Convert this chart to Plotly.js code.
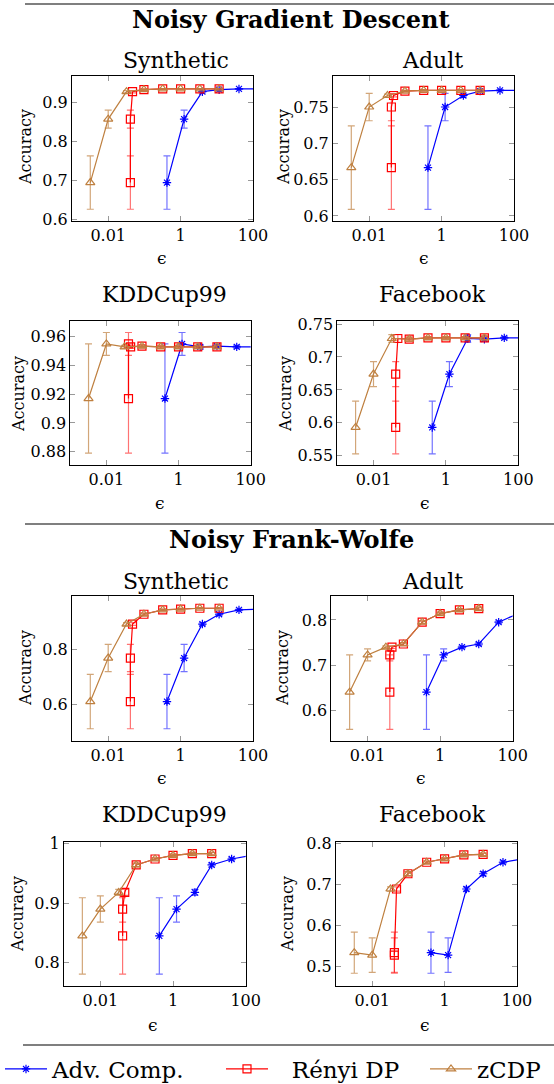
<!DOCTYPE html>
<html><head><meta charset="utf-8">
<script src="https://cdn.plot.ly/plotly-3.0.1.min.js"></script>
<style>html,body{margin:0;padding:0;background:#fff;}#chart{width:554px;height:1084px;}</style>
</head><body><div id="chart"></div>
<script>
// ---------------- data ----------------
const methodNames = ['Adv. Comp.', 'Rényi DP', 'zCDP'];
const epsAdv   = [0.42, 1.25, 4.0, 11.6, 41, 140];
const epsRenyi = [0.041, 0.041, 0.047, 0.097, 0.32, 1.0, 3.4, 11.6];
const epsZcdp  = [0.0032, 0.01, 0.032, 0.097, 0.32, 1.0, 3.4, 11.6];

const sectionTitles = ['Noisy Gradient Descent', 'Noisy Frank-Wolfe'];
const datasetNames = ['Synthetic', 'Adult', 'KDDCup99', 'Facebook'];

// Noisy Gradient Descent
const ngdSyntheticAcc = [0.695, 0.857, 0.927, 0.932, 0.934, 0.934, 0.934, 0.934];
const ngdSyntheticErr = [0.068, 0.023, 0.003, 0.002, 0.001, 0.001, 0.001, 0.001];
const ngdAdultAcc = [0.667, 0.751, 0.767, 0.773, 0.774, 0.774, 0.774, 0.774];
const ngdAdultErr = [0.058, 0.019, 0.002, 0.001, 0.001, 0.001, 0.001, 0.001];
const ngdKddAcc = [0.917, 0.955, 0.953, 0.9535, 0.953, 0.953, 0.953, 0.953];
const ngdKddErr = [0.038, 0.008, 0.001, 0.001, 0.001, 0.001, 0.001, 0.001];
const ngdFacebookAcc = [0.593, 0.674, 0.728, 0.727, 0.729, 0.729, 0.729, 0.729];
const ngdFacebookErr = [0.040, 0.019, 0.006, 0.003, 0.002, 0.002, 0.002, 0.003];

// Noisy Frank-Wolfe
const nfwSyntheticAcc = [0.610, 0.770, 0.895, 0.931, 0.947, 0.950, 0.953, 0.953];
const nfwSyntheticErr = [0.100, 0.050, 0.005, 0.004, 0.003, 0.003, 0.002, 0.002];
const nfwAdultAcc = [0.641, 0.723, 0.740, 0.747, 0.795, 0.814, 0.822, 0.825];
const nfwAdultErr = [0.082, 0.013, 0.003, 0.003, 0.003, 0.003, 0.003, 0.003];
const nfwKddAcc = [0.845, 0.890, 0.918, 0.964, 0.974, 0.980, 0.983, 0.983];
const nfwKddErr = [0.064, 0.022, 0.005, 0.003, 0.002, 0.002, 0.002, 0.002];
const nfwFacebookAcc = [0.534, 0.528, 0.689, 0.726, 0.754, 0.762, 0.772, 0.773];
const nfwFacebookErr = [0.050, 0.042, 0.005, 0.005, 0.003, 0.003, 0.003, 0.003];

const xTickVals = [0.01, 1, 100];
const xTickText = ['0.01', '1', '100'];
const yTicks = [
  [0.6, 0.7, 0.8, 0.9], [0.6, 0.65, 0.7, 0.75], [0.88, 0.9, 0.92, 0.94, 0.96], [0.55, 0.6, 0.65, 0.7, 0.75],
  [0.6, 0.8], [0.6, 0.7, 0.8], [0.8, 0.9, 1], [0.5, 0.6, 0.7, 0.8]
];

// ---------------- layout config ----------------
const W = 554, H = 1084;
const FONT = '"DejaVu Serif"';
const panels = [
  {acc: ngdSyntheticAcc, err: ngdSyntheticErr, name: datasetNames[0], box: [72, 253, 76, 221], yr: [0.597, 0.967], tx: 176, ty: 61, ax: 25, ex: 162},
  {acc: ngdAdultAcc, err: ngdAdultErr, name: datasetNames[1], box: [333, 514, 76, 221], yr: [0.593, 0.794], tx: 432, ty: 61, ax: 283, ex: 424},
  {acc: ngdKddAcc, err: ngdKddErr, name: datasetNames[2], box: [70.3, 250.7, 321, 465], yr: [0.8707, 0.971], tx: 164, ty: 294, ax: 18, ex: 160},
  {acc: ngdFacebookAcc, err: ngdFacebookErr, name: datasetNames[3], box: [337.3, 518.3, 321, 465], yr: [0.536, 0.7546], tx: 432, ty: 294, ax: 285, ex: 425},
  {acc: nfwSyntheticAcc, err: nfwSyntheticErr, name: datasetNames[0], box: [72, 253, 596.3, 740.7], yr: [0.466, 0.997], tx: 176, ty: 581, ax: 25, ex: 162},
  {acc: nfwAdultAcc, err: nfwAdultErr, name: datasetNames[1], box: [331.3, 512.7, 596.3, 740.7], yr: [0.534, 0.852], tx: 432, ty: 581, ax: 282, ex: 421},
  {acc: nfwKddAcc, err: nfwKddErr, name: datasetNames[2], box: [64, 245.7, 841.7, 986], yr: [0.761, 1.003], tx: 164, ty: 814, ax: 17, ex: 153},
  {acc: nfwFacebookAcc, err: nfwFacebookErr, name: datasetNames[3], box: [336, 517, 841.7, 986], yr: [0.453, 0.804], tx: 432, ty: 814, ax: 287, ex: 425}
];
const xLabelY = [258, 258, 503, 503, 778, 778, 1025, 1025];
const yLabelY = [147, 147, 394, 394, 668, 668, 914, 914];

const methods = [
  {name: methodNames[0], eps: epsAdv, color: '#0000ff', err: 'rgba(0,0,255,0.55)', symbol: 'asterisk-open', size: 7, legend: 'legend', pad: ''},
  {name: methodNames[1], eps: epsRenyi, color: '#ff0000', err: 'rgba(255,0,0,0.55)', symbol: 'square-open', size: 8, legend: 'legend2', pad: '\u2002\u00a0'},
  {name: methodNames[2], eps: epsZcdp, color: '#bf8040', err: 'rgba(191,128,64,0.7)', symbol: 'triangle-up-open', size: 8, legend: 'legend3', pad: ''}
];

const px = v => v / W;
const py = v => 1 - v / H;

const data = [];
const layout = {
  width: W, height: H,
  margin: {l: 0, r: 0, t: 0, b: 0, autoexpand: false},
  paper_bgcolor: '#fff', plot_bgcolor: '#fff',
  font: {family: FONT, color: '#000'},
  hovermode: false,
  annotations: [], shapes: []
};

panels.forEach((p, i) => {
  const k = i + 1;
  const xa = 'xaxis' + (k === 1 ? '' : k), ya = 'yaxis' + (k === 1 ? '' : k);
  const xr = 'x' + (k === 1 ? '' : k), yr = 'y' + (k === 1 ? '' : k);
  layout[xa] = {
    domain: [px(p.box[0]), px(p.box[1])], anchor: yr, type: 'log', range: [-3, 2],
    tickvals: xTickVals, ticktext: xTickText, ticks: 'inside', ticklen: 5, tickcolor: '#999', tickwidth: 1,
    showline: true, linecolor: '#000', linewidth: 1, mirror: 'ticks', showgrid: false, zeroline: false,
    tickfont: {family: FONT, size: 16, color: '#000'}, fixedrange: true
  };
  layout[ya] = {
    domain: [py(p.box[3]), py(p.box[2])], anchor: xr, range: p.yr,
    tickvals: yTicks[i], ticktext: yTicks[i].map(String), ticks: 'inside', ticklen: 5, tickcolor: '#999', tickwidth: 1,
    showline: true, linecolor: '#000', linewidth: 1, mirror: 'ticks', showgrid: false, zeroline: false,
    tickfont: {family: FONT, size: 16, color: '#000'}, fixedrange: true
  };
  methods.forEach(m => {
    data.push({
      type: 'scatter', mode: 'lines+markers', name: m.pad + m.name,
      x: m.eps, y: p.acc,
      error_y: {type: 'data', array: p.err, visible: true, color: m.err, thickness: 1.2, width: 3.5},
      line: {color: m.color, width: 1.2},
      marker: {symbol: m.symbol, size: m.size, color: m.color, line: {color: m.color, width: 1.2}},
      xaxis: xr, yaxis: yr,
      showlegend: i === 0, legend: m.legend
    });
  });
  layout.annotations.push({text: p.name, xref: 'paper', yref: 'paper', x: px(p.tx), y: py(p.ty),
    xanchor: 'center', yanchor: 'middle', showarrow: false, font: {family: FONT, size: 22, color: '#000'}});
  layout.annotations.push({text: 'Accuracy', xref: 'paper', yref: 'paper', x: px(p.ax), y: py(yLabelY[i]),
    xanchor: 'center', yanchor: 'middle', textangle: -90, showarrow: false, font: {family: FONT, size: 16, color: '#000'}});
  layout.annotations.push({text: '\u03f5', xref: 'paper', yref: 'paper', x: px(p.ex), y: py(xLabelY[i]),
    xanchor: 'center', yanchor: 'middle', showarrow: false, font: {family: FONT, size: 17, color: '#000'}});
});

// section titles and rules
[[sectionTitles[0], 19, 4], [sectionTitles[1], 539, 524]].forEach(([t, y, ry]) => {
  layout.annotations.push({text: '<b>' + t + '</b>', xref: 'paper', yref: 'paper', x: px(291), y: py(y),
    xanchor: 'center', yanchor: 'middle', showarrow: false, font: {family: FONT, size: 24, color: '#000'}});
  layout.shapes.push({type: 'line', xref: 'paper', yref: 'paper', x0: px(25), x1: 1, y0: py(ry), y1: py(ry),
    line: {color: '#555', width: 1.3}});
});
layout.shapes.push({type: 'line', xref: 'paper', yref: 'paper', x0: px(23), x1: 1, y0: py(1045), y1: py(1045),
  line: {color: '#555', width: 1.3}});

const legendBase = {orientation: 'h', yanchor: 'middle', y: py(1069), xanchor: 'left',
  font: {family: FONT, size: 23, color: '#000'}, bgcolor: 'rgba(0,0,0,0)', borderwidth: 0, itemwidth: 42};
layout.legend = Object.assign({}, legendBase, {x: px(0)});
layout.legend2 = Object.assign({}, legendBase, {x: px(221)});
layout.legend3 = Object.assign({}, legendBase, {x: px(425)});

Plotly.newPlot('chart', data, layout, {staticPlot: true, displayModeBar: false});
</script></body></html>
